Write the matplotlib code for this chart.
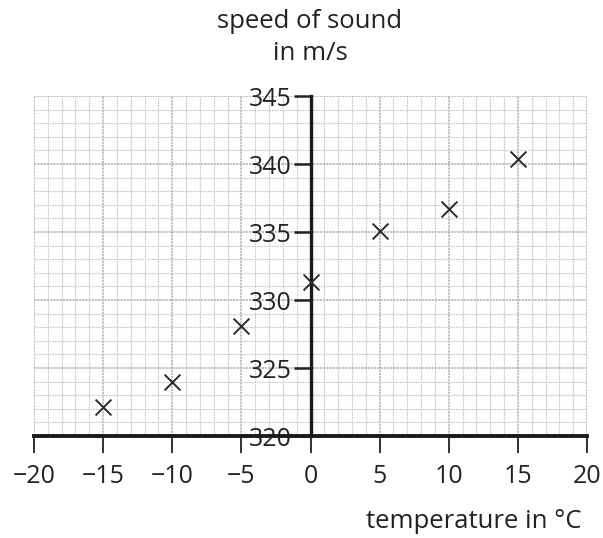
import matplotlib
matplotlib.use("Agg")
import matplotlib.pyplot as plt
import numpy as np
from matplotlib.ticker import MultipleLocator

temperature = [-15, -10, -5, 0, 5, 10, 15]
speed = [322.1, 324.0, 328.1, 331.3, 335.1, 336.7, 340.4]
x_ticks = [-20, -15, -10, -5, 0, 5, 10, 15, 20]
x_tick_labels = ["\u221220", "\u221215", "\u221210", "\u22125", "0", "5", "10", "15", "20"]
y_ticks = [320, 325, 330, 335, 340, 345]
y_tick_labels = ["320", "325", "330", "335", "340", "345"]

plt.rcParams['font.family'] = ['Open Sans', 'DejaVu Sans']

fig = plt.figure(figsize=(6.03, 5.38), dpi=100)
ax = fig.add_axes([34/603, 102/538, 553/603, 340/538])

for s in ['top', 'right']:
    ax.spines[s].set_visible(False)
ax.spines['left'].set_position(('data', 0))
ax.spines['left'].set_linewidth(2.4)
ax.spines['left'].set_color('#1a1a1a')
ax.spines['bottom'].set_linewidth(2.8)
ax.spines['bottom'].set_color('#1a1a1a')

ax.set_xlim(-20, 20)
ax.set_ylim(320, 345)

# grid
ax.xaxis.set_minor_locator(MultipleLocator(1))
ax.yaxis.set_minor_locator(MultipleLocator(1))
ax.grid(which='minor', color='#c8c8c8', linewidth=0.8, linestyle=(0, (1.5, 0.8)), zorder=0)
ax.grid(which='major', color='#b2b2b2', linewidth=1.1, linestyle=(0, (1.5, 0.6)), zorder=0)
ax.set_axisbelow(True)

ax.set_xticks(x_ticks)
ax.set_xticklabels(x_tick_labels, fontsize=18, color='#222222')
ax.set_yticks(y_ticks)
ax.set_yticklabels(y_tick_labels, fontsize=18, color='#222222')
ax.tick_params(which='minor', length=0)
ax.tick_params(axis='x', which='major', direction='out', length=12.5, width=1.3, pad=8, color='#222222')
ax.tick_params(axis='y', which='major', direction='out', length=12.5, width=1.8, pad=1, color='#222222')

ax.scatter(temperature, speed, marker='x', s=130, linewidths=1.4, color='#2a2a2a', zorder=5, clip_on=False)

fig.text(310/603, 1 - 22/538, "speed of sound", ha='center', va='center', fontsize=18.5, color='#222222')
fig.text(310/603, 1 - 54/538, "in m/s", ha='center', va='center', fontsize=18.5, color='#222222')
fig.text(582/603, 1 - 521/538, "temperature in \u00b0C", ha='right', va='center', fontsize=18.5, color='#222222')

fig.savefig("out.png", dpi=100)
